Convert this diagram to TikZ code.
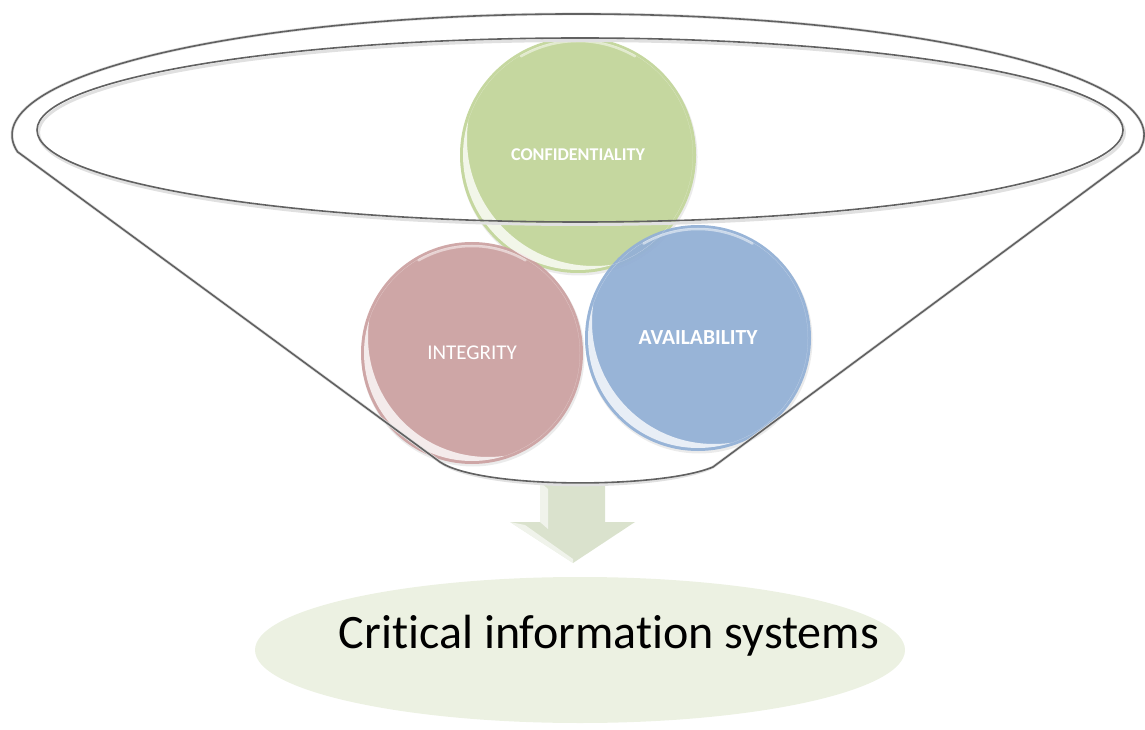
\documentclass[tikz,border=0pt]{standalone}
\usepackage{fontspec}
\setmainfont[Ligatures={NoCommon}]{Carlito}
\usetikzlibrary{shapes.geometric,calc}
\begin{document}
\begin{tikzpicture}[x=1pt,y=1pt,
  rimline/.style={draw=black!62, line width=1.6pt},
  rimshadow/.style={draw=black!12, line width=3pt},
  ball/.style={circle, inner sep=0pt, fill opacity=0.95, text opacity=1, text=white},
  glosstop/.style={draw=white, line width=2.5pt, opacity=0.5, line cap=round},
  arrowfill/.style={fill=arrowgreen, draw=none, opacity=0.9}
]
\definecolor{ballgreen}{RGB}{195,214,155}
\definecolor{ballred}{RGB}{205,163,163}
\definecolor{ballblue}{RGB}{148,177,214}
\definecolor{arrowgreen}{RGB}{214,223,200}
\definecolor{basegreen}{RGB}{236,241,226}

\useasboundingbox (0,0) rectangle (1145,729);

% base ellipse and its label
\node[ellipse, minimum width=650, minimum height=146, fill=basegreen, inner sep=0pt] (base) at (580,79) {};
\node[font=\fontsize{48}{52}\selectfont, text=black] (label) at (609,93) {Critical information systems};

% downward arrow from the funnel to the base
\coordinate (arrtip) at (573,166);
\fill[arrowfill] (540,247) -- (605,247) -- (605,207) -- (635,207) -- (arrtip) -- (510,207) -- (540,207) -- cycle;
\fill[white, opacity=0.6] (540,247) -- (548,240) -- (548,200) -- (540,207) -- cycle;
\fill[white, opacity=0.6] (510,207) -- (525,204) -- (573,170) -- (arrtip) -- cycle;

% soft shadows under the balls
\fill[black, opacity=0.08] (579,572) circle (118.5);
\fill[black, opacity=0.08] (473,374) circle (111.5);
\fill[black, opacity=0.08] (699,389) circle (113.5);

% the three balls
\node[ball, fill=ballgreen, minimum size=236, font=\bfseries\fontsize{18}{20}\selectfont] (conf) at (578,574) {CONFIDENTIALITY};
\node[ball, fill=ballred, minimum size=222, font=\fontsize{21}{24}\selectfont] (integ) at (472,376) {INTEGRITY};
\node[ball, fill=ballblue, minimum size=226, font=\bfseries\fontsize{21.5}{24}\selectfont] (avail) at (698,391) {AVAILABILITY};

% glossy crescents (lower left) and rim highlights (top) on the balls
\foreach \c/\r in {conf/118, integ/111, avail/113}{
  \begin{scope}
    \clip (\c.center) circle (\r-3);
    \fill[white, opacity=0.78, even odd rule]
      (\c.center) circle (\r-3) ($(\c.center)+(16,16)$) circle (\r+9);
  \end{scope}
  \draw[glosstop] (\c.center) ++(60:\r-4) arc[start angle=60, end angle=120, radius=\r-4];
}

% funnel: shadows first, then outlines
\coordinate (rimR) at (1138.5,577.2);
\coordinate (botL) at (440,267);
\coordinate (botR) at (713,262);
\begin{scope}[shift={(1.5,-2.5)}]
  \draw[rimshadow] (rimR) arc[start angle=-8, end angle=188, x radius=566, y radius=121]
    -- (botL) .. controls (480,240) and (660,240) .. (botR) -- cycle;
  \draw[rimshadow] (580,599) ellipse[x radius=543, y radius=92];
\end{scope}
\draw[rimline] (rimR) arc[start angle=-8, end angle=188, x radius=566, y radius=121]
  -- (botL) .. controls (480,240) and (660,240) .. (botR) -- cycle;
\draw[rimline] (580,599) ellipse[x radius=543, y radius=92];
\end{tikzpicture}
\end{document}
